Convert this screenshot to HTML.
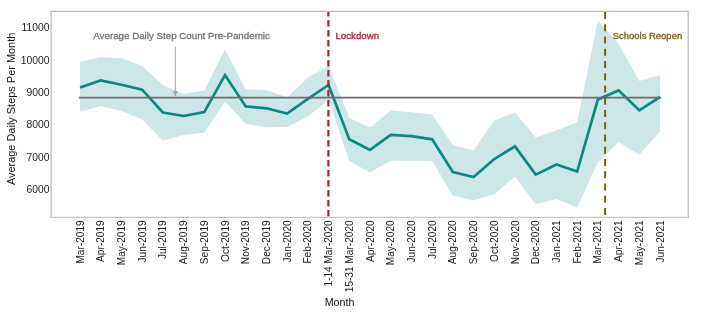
<!DOCTYPE html>
<html><head><meta charset="utf-8"><style>
html,body{margin:0;padding:0;background:#fff;}
body{width:720px;height:316px;overflow:hidden;}
svg{display:block;will-change:transform;font-family:"Liberation Sans",sans-serif;}
</style></head><body>
<svg width="720" height="316" viewBox="0 0 720 316">
<rect x="0" y="0" width="720" height="316" fill="#fff"/>
<polygon points="80,62 100.71,57.1 121.43,58.2 142.14,66 162.86,85 183.57,94 204.29,90.2 225,49.5 245.71,89.3 266.43,90 287.14,97.5 307.86,77.5 328.57,66 349.29,118 370,127.5 390.71,110.5 411.43,112.3 432.14,114.4 452.86,145 473.57,150.4 494.29,120.5 515,112.5 535.71,137.5 556.43,130.4 577.14,122.3 597.86,20.6 618.57,44 639.29,81 660,75 660,131.5 639.29,154.7 618.57,142.1 597.86,162.4 577.14,207.5 556.43,199 535.71,204.5 515,176.4 494.29,194.3 473.57,200.5 452.86,195.7 432.14,161 411.43,160.7 390.71,160.7 370,172.5 349.29,161 328.57,100 307.86,116.5 287.14,127 266.43,127.3 245.71,124 225,101.6 204.29,132.7 183.57,135 162.86,140.8 142.14,119.5 121.43,110.9 100.71,106.1 80,111.8" fill="#cde7e8"/>
<polyline points="80,87.5 100.71,80.4 121.43,84.8 142.14,89.7 162.86,112.5 183.57,116 204.29,112.1 225,75.1 245.71,106.4 266.43,108.3 287.14,113.5 307.86,98.8 328.57,85 349.29,139.3 370,149.9 390.71,134.8 411.43,136.2 432.14,139.3 452.86,172 473.57,177 494.29,159 515,146.4 535.71,174.6 556.43,164.5 577.14,171.5 597.86,99.6 618.57,90.4 639.29,110.3 660,97" fill="none" stroke="#088984" stroke-width="2.7" stroke-linejoin="miter" stroke-linecap="butt"/>
<line x1="79" y1="97.7" x2="661" y2="97.7" stroke="#6c6c6c" stroke-width="1.7"/>
<line x1="328.4" y1="11" x2="328.4" y2="217.6" stroke="#bc1d2c" stroke-width="2.2" stroke-dasharray="6.4 3.6" stroke-dashoffset="1"/>
<line x1="605.1" y1="12.1" x2="605.1" y2="217.6" stroke="#7f6000" stroke-width="2" stroke-dasharray="6.8 5.45"/>
<line x1="175.3" y1="46.5" x2="175.3" y2="91.5" stroke="#a6a6a6" stroke-width="1"/>
<polygon points="172.6,91 178,91 175.3,96.4" fill="#a6a6a6"/>
<path d="M51.1 217.4V11.3H688.2V217.4" fill="none" stroke="#bdbdbd" stroke-width="1.3"/>
<line x1="50.45" y1="217.4" x2="688.85" y2="217.4" stroke="#c6c6c6" stroke-width="1.2"/>
<g font-size="9.75" fill="#737373" stroke="#737373" stroke-width="0.3"><text x="93.3" y="39.2">Average Daily Step Count Pre-Pandemic</text></g>
<text x="335.4" y="39.2" font-size="9.73" fill="#bc1d2c" stroke="#bc1d2c" stroke-width="0.3">Lockdown</text>
<text x="612.7" y="39.1" font-size="9.47" fill="#7f6000" stroke="#7f6000" stroke-width="0.3">Schools Reopen</text>
<g font-size="10.12" fill="#222">
<text x="49.4" y="31.25" text-anchor="end" font-size="10.35">11000</text>
<text x="49.4" y="63.61" text-anchor="end" font-size="10.35">10000</text>
<text x="49.4" y="95.97" text-anchor="end" font-size="10.35">9000</text>
<text x="49.4" y="128.33" text-anchor="end" font-size="10.35">8000</text>
<text x="49.4" y="160.69" text-anchor="end" font-size="10.35">7000</text>
<text x="49.4" y="193.05" text-anchor="end" font-size="10.35">6000</text>
<text transform="translate(83.6,220.3) rotate(-90)" text-anchor="end">Mar-2019</text>
<text transform="translate(104.31,220.3) rotate(-90)" text-anchor="end">Apr-2019</text>
<text transform="translate(125.03,220.3) rotate(-90)" text-anchor="end">May-2019</text>
<text transform="translate(145.74,220.3) rotate(-90)" text-anchor="end">Jun-2019</text>
<text transform="translate(166.46,220.3) rotate(-90)" text-anchor="end">Jul-2019</text>
<text transform="translate(187.17,220.3) rotate(-90)" text-anchor="end">Aug-2019</text>
<text transform="translate(207.89,220.3) rotate(-90)" text-anchor="end">Sep-2019</text>
<text transform="translate(228.6,220.3) rotate(-90)" text-anchor="end">Oct-2019</text>
<text transform="translate(249.31,220.3) rotate(-90)" text-anchor="end">Nov-2019</text>
<text transform="translate(270.03,220.3) rotate(-90)" text-anchor="end">Dec-2019</text>
<text transform="translate(290.74,220.3) rotate(-90)" text-anchor="end">Jan-2020</text>
<text transform="translate(311.46,220.3) rotate(-90)" text-anchor="end">Feb-2020</text>
<text transform="translate(332.17,220.3) rotate(-90)" text-anchor="end">1-14 Mar-2020</text>
<text transform="translate(352.89,220.3) rotate(-90)" text-anchor="end">15-31 Mar-2020</text>
<text transform="translate(373.6,220.3) rotate(-90)" text-anchor="end">Apr-2020</text>
<text transform="translate(394.31,220.3) rotate(-90)" text-anchor="end">May-2020</text>
<text transform="translate(415.03,220.3) rotate(-90)" text-anchor="end">Jun-2020</text>
<text transform="translate(435.74,220.3) rotate(-90)" text-anchor="end">Jul-2020</text>
<text transform="translate(456.46,220.3) rotate(-90)" text-anchor="end">Aug-2020</text>
<text transform="translate(477.17,220.3) rotate(-90)" text-anchor="end">Sep-2020</text>
<text transform="translate(497.89,220.3) rotate(-90)" text-anchor="end">Oct-2020</text>
<text transform="translate(518.6,220.3) rotate(-90)" text-anchor="end">Nov-2020</text>
<text transform="translate(539.31,220.3) rotate(-90)" text-anchor="end">Dec-2020</text>
<text transform="translate(560.03,220.3) rotate(-90)" text-anchor="end">Jan-2021</text>
<text transform="translate(580.74,220.3) rotate(-90)" text-anchor="end">Feb-2021</text>
<text transform="translate(601.46,220.3) rotate(-90)" text-anchor="end">Mar-2021</text>
<text transform="translate(622.17,220.3) rotate(-90)" text-anchor="end">Apr-2021</text>
<text transform="translate(642.89,220.3) rotate(-90)" text-anchor="end">May-2021</text>
<text transform="translate(663.6,220.3) rotate(-90)" text-anchor="end">Jun-2021</text>
</g>
<text transform="translate(15.2,108.9) rotate(-90)" text-anchor="middle" font-size="10.94" fill="#111">Average Daily Steps Per Month</text>
<text x="339.55" y="305.9" text-anchor="middle" font-size="10.69" fill="#111">Month</text>
</svg>
</body></html>
